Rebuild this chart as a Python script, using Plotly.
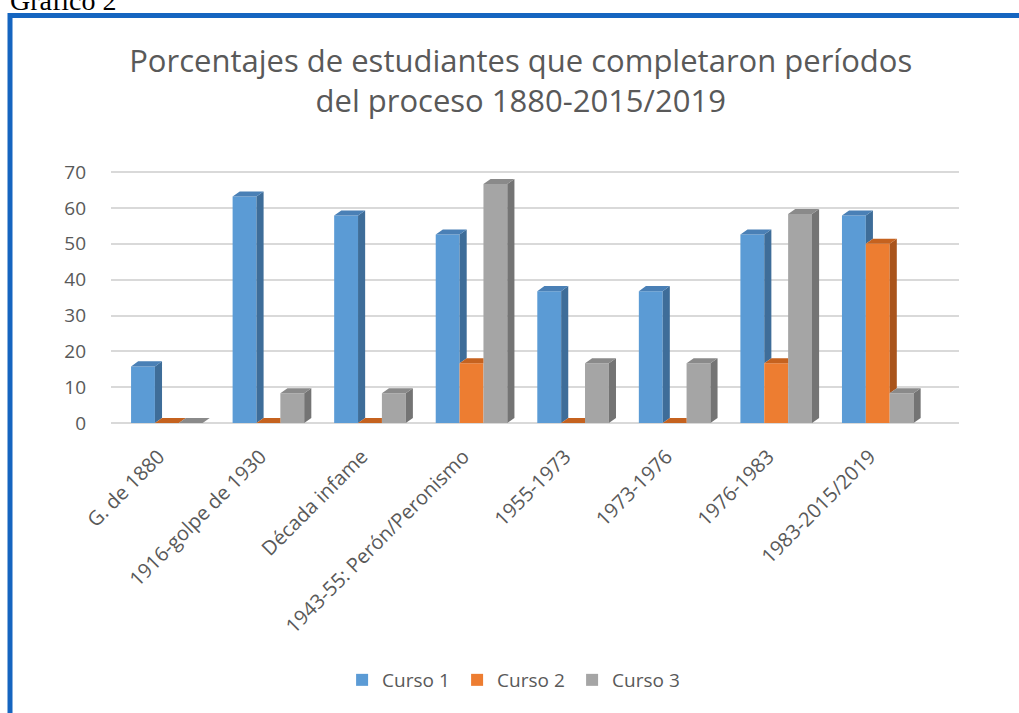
import plotly.graph_objects as go

# Data
categories = ["G. de 1880", "1916-golpe de 1930", "Década infame", "1943-55: Perón/Peronismo",
              "1955-1973", "1973-1976", "1976-1983", "1983-2015/2019"]
curso1 = [15.8, 63.2, 57.9, 52.6, 36.8, 36.8, 52.6, 57.9]
curso2 = [0, 0, 0, 16.7, 0, 0, 16.7, 50.0]
curso3 = [0, 8.3, 8.3, 66.7, 16.7, 16.7, 58.3, 8.3]
series_names = ["Curso 1", "Curso 2", "Curso 3"]
y_ticks = [0, 10, 20, 30, 40, 50, 60, 70]

front_colors = ["#5B9BD5", "#ED7D31", "#A5A5A5"]
side_colors = ["#3E6D99", "#A9541C", "#747474"]
top_colors = ["#4A80B6", "#C5621F", "#8A8A8A"]

series = [curso1, curso2, curso3]
xs = list(range(len(categories)))

# bar geometry (in axis units) and fake depth for the 3D look
bar_w = 0.235
depth_x = 0.07
depth_y = 1.4

fig = go.Figure()

# front faces
for i, vals in enumerate(series):
    fig.add_trace(go.Bar(
        x=xs, y=vals, name=series_names[i],
        width=bar_w, offset=-1.5 * bar_w + i * bar_w,
        marker=dict(color=front_colors[i], line=dict(width=0)),
        hovertemplate=series_names[i] + ": %{y}<extra></extra>",
    ))

# side and top faces (polygons built from the same values)
for i, vals in enumerate(series):
    side_x, side_y, top_x, top_y = [], [], [], []
    last = i + 1 == len(series)
    for k, v in enumerate(vals):
        left = xs[k] - 1.5 * bar_w + i * bar_w
        right = left + bar_w
        nxt = 0 if last else series[i + 1][k]
        bottom = 0 if last else min(v, nxt)
        if last or v > bottom:
            side_x += [right, right + depth_x, right + depth_x, right, right, None]
            side_y += [bottom, bottom + depth_y, v + depth_y, v, bottom, None]
        if not last and nxt > v:
            # right corner hidden behind the next (taller) bar
            top_x += [left, right, right, left + depth_x, left, None]
        else:
            top_x += [left, right, right + depth_x, left + depth_x, left, None]
        top_y += [v, v, v + depth_y, v + depth_y, v, None]
    fig.add_trace(go.Scatter(x=side_x, y=side_y, mode="lines", fill="toself",
                             fillcolor=side_colors[i], line=dict(width=0, color=side_colors[i]),
                             showlegend=False, hoverinfo="skip"))
    fig.add_trace(go.Scatter(x=top_x, y=top_y, mode="lines", fill="toself",
                             fillcolor=top_colors[i], line=dict(width=0, color=top_colors[i]),
                             showlegend=False, hoverinfo="skip"))

grey_text = "#595959"

fig.update_xaxes(
    range=[-0.55, 7.8],
    tickmode="array", tickvals=xs, ticktext=categories,
    tickangle=-45, tickfont=dict(size=20, color=grey_text),
    ticklabelstandoff=17, ticklabelshift=-8,
    showgrid=False, zeroline=False, showline=False, ticks="",
)
fig.update_yaxes(
    range=[0, 72], tickvals=y_ticks,
    tickfont=dict(size=19, color=grey_text),
    gridcolor="#D9D9D9", gridwidth=1.5,
    zeroline=True, zerolinecolor="#D9D9D9", zerolinewidth=1.5,
    showline=False, ticks="", ticklabelstandoff=24,
)

plot_l, plot_r, plot_t, plot_b = 111, 60, 165, 290
plot_w = 1019 - plot_l - plot_r
plot_h = 713 - plot_t - plot_b

def px_x(p):
    return (p - plot_l) / plot_w

def px_y(p):
    return (713 - plot_b - p) / plot_h

# blue frame around the chart
fig.add_shape(type="rect", xref="paper", yref="paper",
              x0=px_x(10), x1=px_x(1040), y0=px_y(740), y1=px_y(15.5),
              line=dict(color="#1565C0", width=5), layer="below")

fig.add_annotation(text="Gráfico 2", xref="paper", yref="paper",
                   x=px_x(8), y=px_y(17.5), xanchor="left", yanchor="bottom",
                   showarrow=False, font=dict(family="Liberation Serif", size=28, color="black"))

fig.update_layout(
    width=1019, height=713,
    margin=dict(l=plot_l, r=plot_r, t=plot_t, b=plot_b),
    barmode="overlay",
    paper_bgcolor="white", plot_bgcolor="white",
    font=dict(family="Open Sans", color=grey_text),
    title=dict(text="Porcentajes de estudiantes que completaron períodos<br>del proceso 1880-2015/2019",
               x=0.511, xref="container", xanchor="center",
               y=1 - 72 / 713, yref="container", yanchor="top",
               font=dict(size=31, color=grey_text)),
    legend=dict(orientation="h", xref="container", yref="container",
                x=0.505, xanchor="center", y=1 - 680 / 713, yanchor="middle",
                font=dict(size=19, color=grey_text), traceorder="normal",
                itemwidth=30, entrywidth=70, entrywidthmode="pixels"),
    showlegend=True,
)

# the page body has a default 8px margin; drop it so the figure sits at the corner
fig.write_html("out.html", config={"displayModeBar": False},
               post_script="document.body.style.margin='0';")
